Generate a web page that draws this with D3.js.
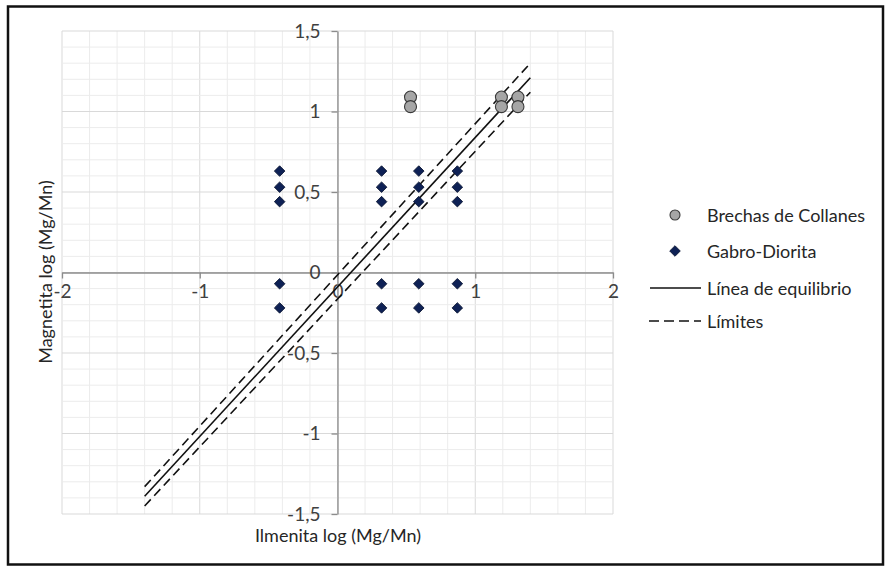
<!DOCTYPE html>
<html>
<head>
<meta charset="utf-8">
<script src="https://cdn.jsdelivr.net/npm/d3@7/dist/d3.min.js"></script>
<style>
  html, body { margin: 0; padding: 0; background: #fff; }
  svg { display: block; font-family: Lato, "Open Sans", sans-serif; }
</style>
</head>
<body>
<svg id="chart" width="888" height="567"></svg>
<script>
// Brechas de Collanes samples (log Mg/Mn)
const brechasX = [0.53, 0.53, 1.19, 1.19, 1.31, 1.31];
const brechasY = [1.09, 1.03, 1.09, 1.03, 1.09, 1.03];

// Gabro-Diorita samples (log Mg/Mn)
const gabroX = [-0.42, -0.42, -0.42, -0.42, -0.42,
                 0.32,  0.32,  0.32,  0.32,  0.32,
                 0.59,  0.59,  0.59,  0.59,  0.59,
                 0.87,  0.87,  0.87,  0.87,  0.87];
const gabroY = [0.63, 0.53, 0.44, -0.07, -0.22,
                0.63, 0.53, 0.44, -0.07, -0.22,
                0.63, 0.53, 0.44, -0.07, -0.22,
                0.63, 0.53, 0.44, -0.07, -0.22];

// Equilibrium line and its limits (end points)
const equilibrioX = [-1.4, 1.4];
const equilibrioY = [-1.39, 1.21];
const limiteSupX = [-1.4, 1.4];
const limiteSupY = [-1.33, 1.30];
const limiteInfX = [-1.4, 1.4];
const limiteInfY = [-1.45, 1.12];

// Axis ticks
const xTicks = [-2, -1, 0, 1, 2];
const xTickLabels = ["-2", "-1", "0", "1", "2"];
const yTicks = [-1.5, -1, -0.5, 0, 0.5, 1, 1.5];
const yTickLabels = ["-1,5", "-1", "-0,5", "0", "0,5", "1", "1,5"];

const legendLabels = ["Brechas de Collanes", "Gabro-Diorita", "Línea de equilibrio", "Límites"];

const svg = d3.select("#chart");

// Outer frame
svg.append("rect")
  .attr("x", 8).attr("y", 6.5).attr("width", 875).attr("height", 558)
  .attr("fill", "#fff").attr("stroke", "#111").attr("stroke-width", 2.5);

const x = d3.scaleLinear().domain([-2, 2]).range([62, 613]);
const y = d3.scaleLinear().domain([-1.5, 1.5]).range([514, 31]);

// Grid
const grid = svg.append("g");
const xMinor = d3.range(-20, 21, 2).map(v => v / 10);
const yMinor = d3.range(-15, 16, 1).map(v => v / 10);
grid.selectAll("line.vx").data(xMinor).join("line")
  .attr("x1", d => x(d)).attr("x2", d => x(d))
  .attr("y1", y(1.5)).attr("y2", y(-1.5))
  .attr("stroke", d => Math.abs(d - Math.round(d)) < 1e-9 ? "#d9d9d9" : "#ececec")
  .attr("stroke-width", 1);
grid.selectAll("line.hy").data(yMinor).join("line")
  .attr("y1", d => y(d)).attr("y2", d => y(d))
  .attr("x1", x(-2)).attr("x2", x(2))
  .attr("stroke", d => Math.abs(d * 2 - Math.round(d * 2)) < 1e-9 ? "#d9d9d9" : "#ececec")
  .attr("stroke-width", 1);

// Axes crossing at the origin
const xAxis = d3.axisBottom(x).tickValues(xTicks)
  .tickFormat((d, i) => xTickLabels[i]).tickSize(6).tickSizeOuter(0).tickPadding(6);
const yAxis = d3.axisLeft(y).tickValues(yTicks)
  .tickFormat((d, i) => yTickLabels[i]).tickSize(6).tickSizeOuter(0).tickPadding(11);

const gx = svg.append("g").attr("transform", `translate(0,${y(0)})`).call(xAxis);
const gy = svg.append("g").attr("transform", `translate(${x(0)},0)`).call(yAxis);
[gx, gy].forEach(g => {
  g.select(".domain").attr("stroke", "#8c8c8c").attr("stroke-width", 1.3);
  g.selectAll(".tick line").attr("stroke", "#8c8c8c").attr("stroke-width", 1.3);
  g.selectAll(".tick text").attr("fill", "#404040")
    .style("font-family", "Lato, 'Open Sans', sans-serif").style("font-size", "19px");
});

// Lines
const lineGen = d3.line().x(d => x(d[0])).y(d => y(d[1]));
const lines = [
  { xs: limiteSupX, ys: limiteSupY, dash: "9,5" },
  { xs: equilibrioX, ys: equilibrioY, dash: null },
  { xs: limiteInfX, ys: limiteInfY, dash: "9,5" }
];
lines.forEach(l => {
  svg.append("path")
    .datum(l.xs.map((v, i) => [v, l.ys[i]]))
    .attr("d", lineGen)
    .attr("fill", "none").attr("stroke", "#111").attr("stroke-width", 1.6)
    .attr("stroke-dasharray", l.dash);
});

// Gabro-Diorita diamonds
const diamond = d3.symbol().type(d3.symbolSquare).size(56);
svg.append("g").selectAll("path").data(gabroX.map((v, i) => [v, gabroY[i]])).join("path")
  .attr("d", diamond)
  .attr("transform", d => `translate(${x(d[0])},${y(d[1])}) rotate(45)`)
  .attr("fill", "#0e2155").attr("stroke", "#0a1430").attr("stroke-width", 0.8);

// Brechas de Collanes circles
svg.append("g").selectAll("circle").data(brechasX.map((v, i) => [v, brechasY[i]])).join("circle")
  .attr("cx", d => x(d[0])).attr("cy", d => y(d[1])).attr("r", 6)
  .attr("fill", "#a6a6a6").attr("stroke", "#3a3a3a").attr("stroke-width", 1.1);

// Axis titles
svg.append("text").attr("x", 338).attr("y", 542).attr("text-anchor", "middle")
  .attr("fill", "#262626").style("font-size", "18px").text("Ilmenita log (Mg/Mn)");
svg.append("text").attr("transform", "translate(52,272) rotate(-90)").attr("text-anchor", "middle")
  .attr("fill", "#262626").style("font-size", "18px").text("Magnetita log (Mg/Mn)");

// Legend
const lg = svg.append("g");
const legendY = [215, 251, 288, 321];
lg.append("circle").attr("cx", 675).attr("cy", legendY[0]).attr("r", 5)
  .attr("fill", "#a6a6a6").attr("stroke", "#3a3a3a").attr("stroke-width", 1.1);
lg.append("path").attr("d", diamond)
  .attr("transform", `translate(675,${legendY[1]}) rotate(45)`)
  .attr("fill", "#0e2155").attr("stroke", "#0a1430").attr("stroke-width", 0.8);
lg.append("line").attr("x1", 650).attr("x2", 701).attr("y1", legendY[2]).attr("y2", legendY[2])
  .attr("stroke", "#111").attr("stroke-width", 1.6);
lg.append("line").attr("x1", 649).attr("x2", 701).attr("y1", legendY[3]).attr("y2", legendY[3])
  .attr("stroke", "#111").attr("stroke-width", 1.6).attr("stroke-dasharray", "10,5");
lg.selectAll("text").data(legendLabels).join("text")
  .attr("x", 707).attr("y", (d, i) => legendY[i] + 6.5)
  .attr("fill", "#262626").style("font-size", "18px").text(d => d);
</script>
</body>
</html>
